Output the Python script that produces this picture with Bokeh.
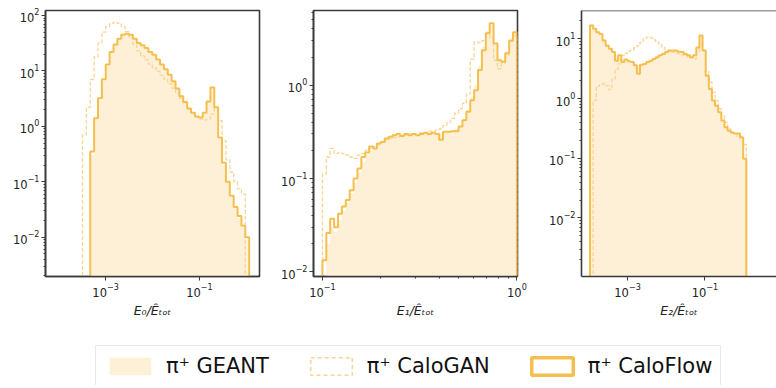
import numpy as np
from bokeh.plotting import figure
from bokeh.layouts import row, column
from bokeh.models import Range1d, FixedTicker, LogTickFormatter, Span, Legend, LegendItem
from bokeh.embed import file_html
from bokeh.resources import INLINE

# ---------------- data ----------------
# log10 bin ranges and bin counts of the three histograms
p1_bins = (-4.07, 0.06, 50)
p2_bins = (-1.0, 0.0, 50)
p3_bins = (-3.97, 0.07, 50)

p1_geant = [0, 0, 0, 0, 0, 0, 0, 0, 0, 0.3,
            1.3, 3.0, 6.8, 12.5, 21, 30, 39, 45, 46, 44,
            39, 33, 29, 25.5, 22, 19, 15.5, 12.8, 10.5, 8.3,
            6.4, 4.8, 3.6, 2.8, 2.15, 1.75, 1.5, 1.4, 1.7, 2.9,
            5.2, 2.3, 0.6, 0.2, 0.095, 0.052, 0.033, 0.022, 0.015, 0.009]
p1_gan = [0, 0, 0, 0, 0, 0, 0, 0.7, 2.2, 7,
          18, 32, 50, 63, 72, 76, 72, 63, 51, 40,
          30, 23, 18.6, 15.8, 13.2, 11.5, 9.8, 8.3, 7.1, 5.9,
          4.9, 4.0, 3.2, 2.6, 2.1, 1.74, 1.48, 1.35, 1.29, 1.35,
          1.66, 2.2, 1.26, 0.55, 0.25, 0.15, 0.1, 0.075, 0.06, 0]
p1_flow = [0, 0, 0, 0, 0, 0, 0, 0, 0, 0.35,
           1.4, 3.2, 7.1, 13, 22, 30, 38, 45, 47, 45,
           38, 32, 29, 26, 22, 19.5, 16, 13, 10.7, 8.5,
           6.5, 4.8, 3.5, 2.75, 2.1, 1.75, 1.5, 1.45, 1.75, 2.8,
           5.0, 2.2, 0.63, 0.22, 0.1, 0.056, 0.035, 0.024, 0.016, 0.01]

p2_geant = [0.009, 0.02, 0.03, 0.027, 0.036, 0.045, 0.055, 0.07, 0.09, 0.115,
            0.15, 0.18, 0.2, 0.21, 0.23, 0.245, 0.26, 0.275, 0.285, 0.29,
            0.29, 0.295, 0.295, 0.30, 0.30, 0.30, 0.305, 0.305, 0.31, 0.31,
            0.31, 0.315, 0.32, 0.33, 0.34, 0.37, 0.43, 0.55, 0.75, 1.0,
            1.6, 2.6, 3.8, 4.4, 2.7, 1.8, 1.8, 2.3, 3.2, 3.6]
p2_gan = [0.112, 0.17, 0.21, 0.185, 0.19, 0.185, 0.178, 0.17, 0.164, 0.178,
          0.185, 0.2, 0.21, 0.22, 0.23, 0.246, 0.26, 0.268, 0.275, 0.28,
          0.29, 0.29, 0.30, 0.30, 0.30, 0.31, 0.31, 0.32, 0.32, 0.33,
          0.34, 0.37, 0.40, 0.44, 0.50, 0.56, 0.64, 0.8, 1.9, 2.9,
          2.85, 3.0, 3.6, 3.2, 1.85, 1.5, 1.7, 2.1, 3.0, 3.4]
p2_flow = [0.0133, 0.026, 0.037, 0.030, 0.042, 0.05, 0.059, 0.075, 0.1, 0.128,
           0.17, 0.19, 0.22, 0.21, 0.237, 0.246, 0.268, 0.28, 0.29, 0.30,
           0.285, 0.30, 0.29, 0.30, 0.29, 0.30, 0.31, 0.30, 0.31, 0.30,
           0.26, 0.316, 0.316, 0.32, 0.32, 0.36, 0.42, 0.52, 0.69, 0.88,
           1.45, 2.37, 3.6, 4.6, 2.8, 1.85, 1.78, 2.2, 3.0, 3.7]

p3_geant = [17.5, 15, 13, 11.5, 9.8, 8.0, 6.9, 6.2, 5.2, 5.0,
            4.6, 4.5, 4.3, 4.1, 3.9, 3.6, 3.8, 3.9, 4.2, 4.4,
            4.7, 5.0, 5.3, 5.6, 5.9, 6.2, 6.3, 6.3, 6.1, 5.9,
            5.6, 5.3, 5.0, 5.4, 7.4, 11.0, 6.6, 2.5, 1.5, 0.95,
            0.75, 0.58, 0.43, 0.34, 0.29, 0.27, 0.26, 0.25, 0.22, 0.1]
p3_gan = [0, 0.93, 1.6, 1.7, 1.76, 1.65, 1.4, 2.1, 3.1, 3.8,
          5.3, 5.7, 6.2, 6.5, 7.1, 7.7, 8.8, 10, 10.7, 10.4,
          9.6, 8.8, 8.0, 7.2, 6.5, 6.2, 6.0, 5.7, 5.6, 5.4,
          5.3, 5.0, 4.8, 4.6, 6.0, 8.8, 6.4, 2.9, 1.9, 1.27,
          0.93, 0.67, 0.52, 0.4, 0.31, 0.27, 0.26, 0.23, 0.21, 0.17]
p3_flow = [16.7, 14.7, 12.9, 12.1, 9.4, 7.7, 6.8, 6.0, 4.3, 5.3,
           4.1, 4.5, 4.2, 4.1, 3.6, 2.6, 3.7, 3.8, 4.1, 4.3,
           4.6, 4.9, 5.3, 5.6, 6.0, 6.4, 6.4, 6.4, 6.1, 6.0,
           5.6, 5.3, 4.9, 5.3, 7.2, 11.4, 6.4, 2.4, 1.45, 0.93,
           0.76, 0.59, 0.43, 0.33, 0.29, 0.27, 0.26, 0.26, 0.225, 0.098]

x_labels = ["E\u2080/\u00ca\u209c\u2092\u209c", "E\u2081/\u00ca\u209c\u2092\u209c", "E\u2082/\u00ca\u209c\u2092\u209c"]
legend_labels = ["\u03c0\u207a GEANT", "\u03c0\u207a CaloGAN", "\u03c0\u207a CaloFlow"]

# ---------------- style ----------------
FILL = "#fdf0d6"
FLOW = "#f5bf4f"
GAN = "#f8d595"
FRAME = "#3a3a3a"
TXT = "#222222"
FONT = "DejaVu Sans"
FLOOR = 1e-6


def step_path(edges, vals):
    xs, ys = [edges[0]], [FLOOR]
    for i, v in enumerate(vals):
        y = v if v > 0 else FLOOR
        xs += [edges[i], edges[i + 1]]
        ys += [y, y]
    xs.append(edges[-1])
    ys.append(FLOOR)
    return xs, ys


def minor(decades, lo, hi):
    out = []
    for d in decades:
        for s in range(2, 10):
            v = s * 10.0 ** d
            if lo < v < hi:
                out.append(v)
    return out


def panel(width, mbl, mbr, xr, yr, xt, yt, xmin, ymin, bins, geant, gan, flow, label, open_right=False):
    p = figure(width=width, height=330, x_axis_type="log", y_axis_type="log",
               x_range=Range1d(*xr), y_range=Range1d(*yr), toolbar_location=None,
               output_backend="svg", min_border_left=mbl, min_border_right=mbr,
               min_border_top=10, min_border_bottom=54, title=None)
    p.grid.visible = False
    p.background_fill_color = "white"
    p.border_fill_color = "white"
    if open_right:
        p.outline_line_color = None
        p.add_layout(Span(location=yr[1], dimension="width", line_color=FRAME, line_width=1.6))
    else:
        p.outline_line_color = FRAME
        p.outline_line_width = 1.6
    p.xaxis.ticker = FixedTicker(ticks=xt, minor_ticks=xmin)
    p.yaxis.ticker = FixedTicker(ticks=yt, minor_ticks=ymin)
    p.xaxis.formatter = LogTickFormatter()
    p.yaxis.formatter = LogTickFormatter()
    for ax in p.axis:
        ax.axis_line_color = FRAME
        ax.axis_line_width = 1.6
        ax.major_tick_in = 0
        ax.major_tick_out = 4
        ax.minor_tick_in = 0
        ax.minor_tick_out = 2
        ax.major_tick_line_color = FRAME
        ax.minor_tick_line_color = FRAME
        ax.major_label_text_font = FONT
        ax.major_label_text_font_size = "11.5px"
        ax.major_label_text_color = TXT
        ax.major_label_standoff = 2
    p.xaxis.axis_label = label
    p.xaxis.axis_label_text_font = FONT
    p.xaxis.axis_label_text_font_size = "12.5px"
    p.xaxis.axis_label_text_font_style = "italic"
    p.xaxis.axis_label_text_color = TXT
    p.xaxis.axis_label_standoff = 3

    edges = list(np.logspace(bins[0], bins[1], bins[2] + 1))
    xs, yg = step_path(edges, geant)
    p.varea(x=xs, y1=[FLOOR] * len(xs), y2=yg, fill_color=FILL, fill_alpha=1)
    _, ya = step_path(edges, gan)
    p.line(xs, ya, line_color=GAN, line_width=1.3, line_dash="4 2")
    _, yf = step_path(edges, flow)
    p.line(xs, yf, line_color=FLOW, line_width=2)
    return p


p1 = panel(265, 45, 6, (10 ** -4.28, 10 ** 0.28), (10 ** -2.71, 10 ** 2.09),
           [1e-3, 1e-1], [1e-2, 1e-1, 1, 10, 100], [],
           minor(range(-3, 3), 10 ** -2.71, 10 ** 2.09),
           p1_bins, p1_geant, p1_gan, p1_flow, x_labels[0])
p2 = panel(265, 48, 13, (10 ** -1.046, 10 ** 0.003), (10 ** -2.05, 10 ** 0.80),
           [0.1, 1], [0.01, 0.1, 1], minor([-1], 0.09, 1.0),
           minor(range(-2, 1), 10 ** -2.05, 10 ** 0.80),
           p2_bins, p2_geant, p2_gan, p2_flow, x_labels[1])
p3 = panel(246, 51, 0, (10 ** -4.19, 10 ** 0.85), (10 ** -2.98, 10 ** 1.475),
           [1e-3, 1e-1, 10], [1e-2, 1e-1, 1, 10], [],
           minor(range(-3, 2), 10 ** -2.98, 10 ** 1.475),
           p3_bins, p3_geant, p3_gan, p3_flow, x_labels[2], open_right=True)

# ---------------- legend ----------------
pl = figure(width=776, height=55, x_range=Range1d(0, 1), y_range=Range1d(0, 1),
            toolbar_location=None, output_backend="svg", x_axis_location=None,
            y_axis_location=None, min_border_left=95, min_border_top=15,
            min_border_right=0, min_border_bottom=0, title=None)
pl.outline_line_color = None
pl.grid.visible = False
r1 = pl.quad(left=[5], right=[6], bottom=[5], top=[6], fill_color=FILL, line_color=None)
r2 = pl.quad(left=[5], right=[6], bottom=[5], top=[6], fill_alpha=0, line_color=GAN,
             line_width=1.6, line_dash="4 3")
r3 = pl.quad(left=[5], right=[6], bottom=[5], top=[6], fill_alpha=0, line_color=FLOW,
             line_width=3.5)
legend = Legend(items=[LegendItem(label=legend_labels[0], renderers=[r1]),
                       LegendItem(label=legend_labels[1], renderers=[r2]),
                       LegendItem(label=legend_labels[2], renderers=[r3])],
                location="top_left", orientation="horizontal", margin=0, padding=8,
                spacing=36, glyph_width=52, glyph_height=22, label_standoff=10,
                label_text_font=FONT, label_text_font_size="21px", label_text_color="#111111",
                border_line_color="#d4d4d4", border_line_width=1.2,
                background_fill_color="white", background_fill_alpha=1)
pl.add_layout(legend)

layout = column(row(p1, p2, p3), pl)
open("out.html", "w").write(file_html(layout, INLINE))
